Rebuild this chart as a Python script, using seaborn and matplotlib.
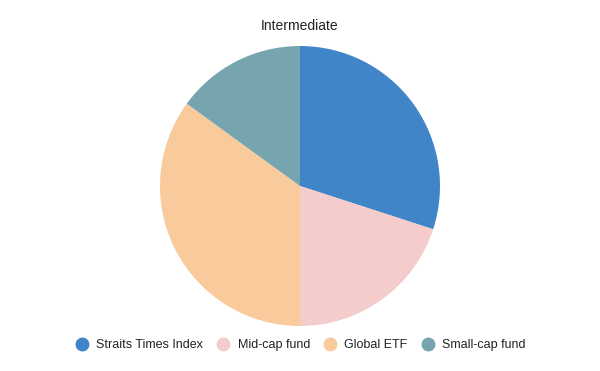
import matplotlib
matplotlib.use("Agg")
import matplotlib.pyplot as plt
from matplotlib.lines import Line2D
import seaborn as sns

categories = ["Straits Times Index", "Mid-cap fund", "Global ETF", "Small-cap fund"]
values = [30, 20, 35, 15]
colors = ["#3f85c8", "#f4cccc", "#f9cb9c", "#76a5af"]
title = "Intermediate"

sns.set_theme(style="white")
plt.rcParams['font.family'] = ['Liberation Sans', 'DejaVu Sans']

palette = sns.color_palette(colors)

fig = plt.figure(figsize=(6, 3.71), dpi=100)
ax = fig.add_axes([160/600, 45/371, 280/600, 280/371])
ax.pie(values, colors=palette, startangle=90, counterclock=False, radius=1.0,
       wedgeprops=dict(linewidth=0))
ax.set_xlim(-1, 1)
ax.set_ylim(-1, 1)
ax.set_aspect("equal")
ax.axis("off")

fig.text(0.5, 1 - 26/371, title, ha="center", va="center", fontsize=10, color="#222222")

handles = [Line2D([0], [0], marker="o", linestyle="", markersize=9,
                  markerfacecolor=c, markeredgecolor=c) for c in palette]
fig.legend(handles, categories, loc="center", bbox_to_anchor=(0.5, 1 - 345/371),
           ncol=4, frameon=False, fontsize=9, handletextpad=0.55,
           columnspacing=1.0, handlelength=1.2, labelcolor="#222222")

fig.savefig("out.png", dpi=100)
